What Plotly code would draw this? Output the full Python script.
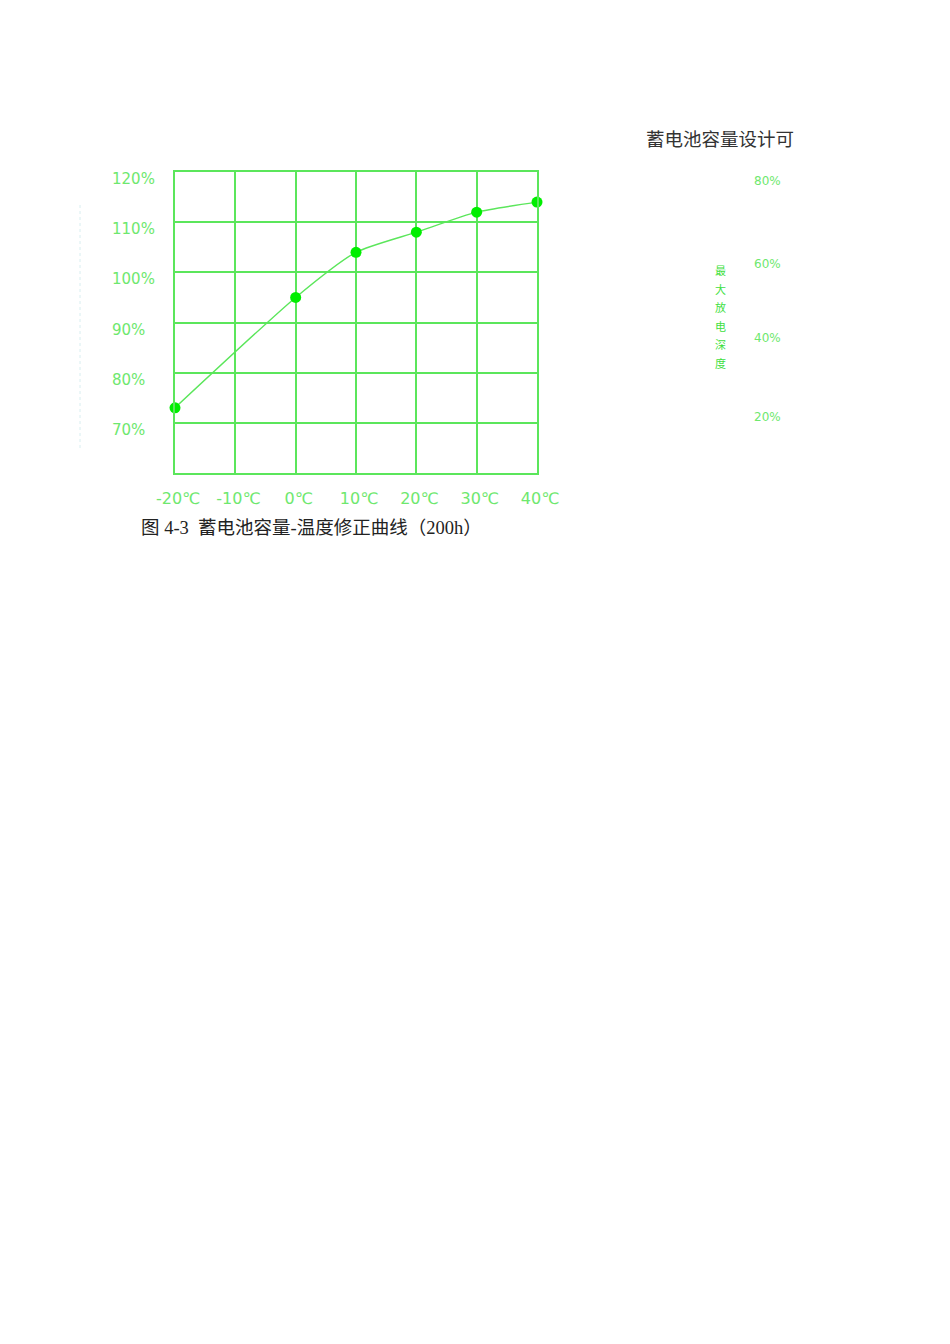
import plotly.graph_objects as go

# ---- data ----
temps = [-20, 0, 10, 20, 30, 40]
capacity = [73, 95, 104, 108, 112, 114]
x_ticks = [-20, -10, 0, 10, 20, 30, 40]
x_tick_labels = ["-20℃", "-10℃", "0℃", "10℃", "20℃", "30℃", "40℃"]
y_ticks = [120, 110, 100, 90, 80, 70]
y_tick_labels = ["120%", "110%", "100%", "90%", "80%", "70%"]
right_ticks = ["80%", "60%", "40%", "20%"]
right_ticks_y = [181, 264, 338, 417]  # pixel rows of the cropped neighbour chart
caption = "图 4-3  蓄电池容量-温度修正曲线（200h）"
side_title = "蓄电池容量设计可"
vertical_label = "最大放电深度"

GRID = "#5be65b"
LABEL = "#6ee86e"
MARK = "#00ee00"

OFF = 8  # page body margin
# plot area in page pixels
L, R, T, B = 175, 537, 172, 473
W, H = 950 - OFF, 1344 - OFF
def px(p):
    return (p - L) / (R - L)
def py(p):
    return (B - p) / (B - T)

fig = go.Figure()
fig.add_trace(go.Scatter(
    x=temps, y=capacity, mode="lines+markers",
    line=dict(color=GRID, width=1.4, shape="spline", smoothing=0.6),
    marker=dict(color=MARK, size=11),
    cliponaxis=False,
    showlegend=False, hoverinfo="skip",
))

fig.update_xaxes(
    range=[-20, 40], tickvals=x_ticks, ticktext=x_tick_labels,
    showgrid=True, gridcolor=GRID, gridwidth=1.5,
    showline=True, linecolor=GRID, linewidth=1.5, mirror=True,
    zeroline=False, ticks="",
    tickfont=dict(family="DejaVu Sans, sans-serif", size=16, color=LABEL),
    ticklabelstandoff=10, ticklabelshift=3,
)
fig.update_yaxes(
    range=[60, 120], tickvals=y_ticks, showticklabels=False,
    showgrid=True, gridcolor=GRID, gridwidth=1.5,
    showline=True, linecolor=GRID, linewidth=1.5, mirror=True,
    zeroline=False, ticks="",
)

ann = []
for v, t in zip(y_ticks, y_tick_labels):
    ann.append(dict(x=px(110), xref="paper", y=v, yref="y", yshift=-7,
                    text=t, showarrow=False, xanchor="left", yanchor="middle",
                    font=dict(family="DejaVu Sans, sans-serif", size=15, color=LABEL)))
for t, yp in zip(right_ticks, right_ticks_y):
    ann.append(dict(x=px(752), xref="paper", y=py(yp), yref="paper",
                    text=t, showarrow=False, xanchor="left", yanchor="middle",
                    font=dict(family="DejaVu Sans, sans-serif", size=12, color=LABEL)))
for i, ch in enumerate(vertical_label):
    ann.append(dict(x=px(720), xref="paper", y=py(270 + i * 18.6), yref="paper",
                    text=ch, showarrow=False, xanchor="center", yanchor="middle",
                    font=dict(family="Noto Sans CJK SC", size=11, color="#3ee03e")))
ann.append(dict(x=px(644), xref="paper", y=py(138), yref="paper",
                text=side_title, showarrow=False, xanchor="left", yanchor="middle",
                font=dict(family="Noto Sans CJK SC", size=18.5, color="#333333")))
ann.append(dict(x=px(139), xref="paper", y=py(528), yref="paper",
                text=caption, showarrow=False, xanchor="left", yanchor="middle",
                font=dict(family="Liberation Serif, Noto Sans CJK SC", size=18.5, color="#222222")))

fig.update_layout(
    width=W, height=H,
    margin=dict(l=L - OFF, r=950 - R, t=T - OFF, b=1344 - B, pad=0),
    paper_bgcolor="white", plot_bgcolor="white",
    annotations=ann,
    shapes=[dict(type="line", xref="paper", yref="paper",
                 x0=px(80), x1=px(80), y0=py(205), y1=py(450),
                 line=dict(color="#d8eef0", width=1, dash="dot"))],
)

fig.write_html("out.html")
